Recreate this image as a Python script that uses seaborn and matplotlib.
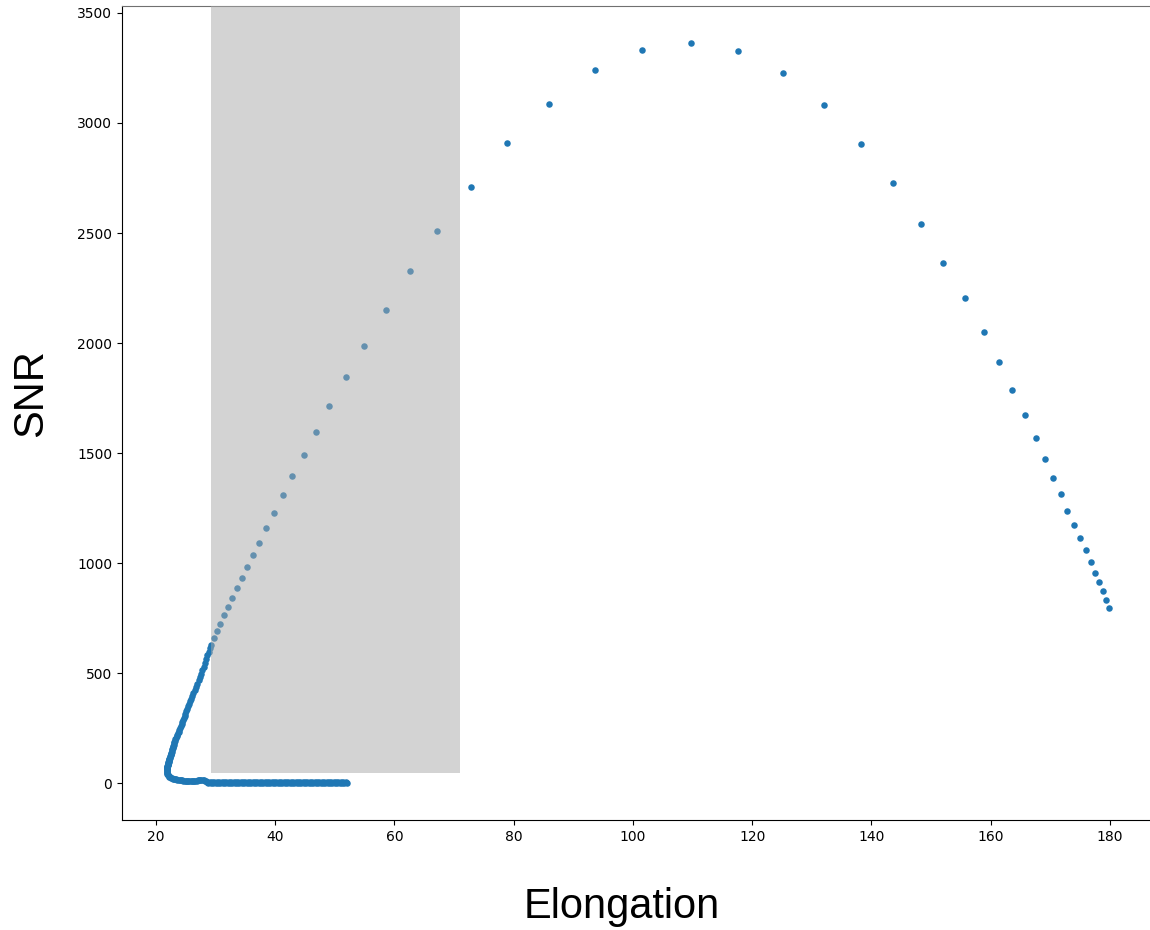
import matplotlib
matplotlib.use("Agg")
import matplotlib.pyplot as plt
import seaborn as sns
import pandas as pd

# ---- data ----
# flat part near SNR ~ 0
floor_elong = [28.6, 28.8, 29.0, 29.2, 29.4, 29.6, 29.8, 30.0, 30.2, 30.4,
               30.6, 30.8, 31.0, 31.2, 31.4, 31.6, 31.8, 32.0, 32.2, 32.4,
               32.6, 32.8, 33.0, 33.2, 33.4, 33.6, 33.8, 34.0, 34.2, 34.4,
               34.6, 34.8, 35.0, 35.2, 35.4, 35.6, 35.8, 36.0, 36.2, 36.4,
               36.6, 36.8, 37.0, 37.2, 37.4, 37.6, 37.8, 38.0, 38.2, 38.4,
               38.6, 38.8, 39.0, 39.2, 39.4, 39.6, 39.8, 40.0, 40.2, 40.4,
               40.6, 40.8, 41.0, 41.2, 41.4, 41.6, 41.8, 42.0, 42.2, 42.4,
               42.6, 42.8, 43.0, 43.2, 43.4, 43.6, 43.8, 44.0, 44.2, 44.4,
               44.6, 44.8, 45.0, 45.2, 45.4, 45.6, 45.8, 46.0, 46.2, 46.4,
               46.6, 46.8, 47.0, 47.2, 47.4, 47.6, 47.8, 48.0, 48.2, 48.4,
               48.6, 48.8, 49.0, 49.2, 49.4, 49.6, 49.8, 50.0, 50.2, 50.4,
               50.6, 50.8, 51.0, 51.2, 51.4, 51.6, 51.8, 52.0]
floor_snr = [6.0, 1.5, 5.5, 1.2, 5.5, 1.0, 5.0, 1.0, 5.0, 0.8,
             5.0, 0.8, 4.8, 0.8, 4.8, 0.7, 4.6, 0.7, 4.6, 0.6,
             4.5, 0.6, 4.5, 0.6, 4.4, 0.5, 4.4, 0.5, 4.3, 0.5,
             4.3, 0.5, 4.2, 0.5, 4.2, 0.4, 4.1, 0.4, 4.1, 0.4,
             4.0, 0.4, 4.0, 0.4, 4.0, 0.4, 3.9, 0.4, 3.9, 0.3,
             3.9, 0.3, 3.8, 0.3, 3.8, 0.3, 3.8, 0.3, 3.7, 0.3,
             3.7, 0.3, 3.7, 0.3, 3.6, 0.3, 3.6, 0.3, 3.6, 0.2,
             3.5, 0.2, 3.5, 0.2, 3.5, 0.2, 3.4, 0.2, 3.4, 0.2,
             3.4, 0.2, 3.3, 0.2, 3.3, 0.2, 3.3, 0.2, 3.2, 0.2,
             3.2, 0.2, 3.2, 0.2, 3.1, 0.2, 3.1, 0.1, 3.1, 0.1,
             3.0, 0.1, 3.0, 0.1, 3.0, 0.1, 2.9, 0.1, 2.9, 0.1,
             2.9, 0.1, 2.8, 0.1, 2.8, 0.1, 2.8, 0.1]

# hook at the lowest elongations
hook_elong = [21.81, 21.80, 21.80, 21.81, 21.83, 21.86, 21.90, 21.96, 22.03, 22.12,
              22.22, 22.34, 22.48, 22.64, 22.82, 23.0, 23.2, 23.4, 23.6, 23.8,
              24.0, 24.2, 24.4, 24.6, 24.8, 25.0, 25.2, 25.4, 25.6, 25.8,
              26.0, 26.2, 26.4, 26.6, 26.8, 27.0, 27.2, 27.4, 27.6, 27.8,
              28.0, 28.2, 28.35, 28.5]
hook_snr = [66, 62, 58, 54, 50, 46, 42, 38, 35, 32,
            29, 26, 24, 22, 20, 18, 17, 16, 15, 14,
            13, 12, 12, 11, 11, 10, 10, 9, 9, 9,
            9, 9, 10, 10, 11, 12, 13, 14, 15, 15,
            14, 11, 7, 4]

# dense rising branch
rise_elong = [21.82, 21.84, 21.87, 21.89, 21.93, 21.95, 21.98, 22.02, 22.05, 22.08,
              22.12, 22.15, 22.18, 22.23, 22.26, 22.31, 22.35, 22.39, 22.44, 22.48,
              22.53, 22.57, 22.63, 22.68, 22.74, 22.79, 22.85, 22.90, 22.97, 23.03,
              23.10, 23.17, 23.25, 23.35, 23.46, 23.57, 23.68, 23.80, 23.92, 24.05,
              24.17, 24.31, 24.44, 24.55, 24.68, 24.80, 24.93, 25.06, 25.20, 25.34,
              25.49, 25.64, 25.81, 26.02, 26.23, 26.46, 26.69, 26.91, 27.16, 27.40,
              27.59, 27.78, 27.98, 28.19, 28.41, 28.62, 28.83, 29.01]
rise_snr = [70, 72, 75, 77, 80, 82, 85, 88, 91, 94,
            97, 100, 103, 107, 110, 114, 118, 122, 126, 130,
            134, 138, 143, 148, 153, 158, 163, 168, 174, 180,
            186, 192, 198, 205, 212, 219, 226, 234, 242, 250,
            258, 267, 276, 285, 295, 305, 315, 326, 337, 348,
            360, 372, 384, 397, 410, 424, 438, 452, 467, 482,
            497, 513, 529, 546, 563, 580, 597, 612]

# sparse arc
arc_elong = [29.2, 29.7, 30.2, 30.7, 31.4, 32.1, 32.7, 33.6, 34.4, 35.3, 36.3, 37.3,
             38.4, 39.8, 41.3, 42.8, 44.8, 46.8, 49.0, 51.9, 54.9, 58.6, 62.6, 67.1,
             72.8, 78.9, 85.9, 93.6, 101.5, 109.7, 117.6, 125.2, 132.0, 138.2, 143.6,
             148.3, 152.0, 155.7, 158.9, 161.4, 163.6, 165.8, 167.6, 169.1, 170.4,
             171.8, 172.8, 174.0, 175.0, 176.0, 176.8, 177.5, 178.2, 178.8, 179.3, 179.8]
arc_snr = [627, 659, 691, 723, 764, 800, 841, 886, 932, 982, 1036, 1091,
           1159, 1227, 1309, 1395, 1491, 1595, 1714, 1845, 1986, 2150, 2327, 2509,
           2709, 2909, 3086, 3241, 3332, 3364, 3327, 3227, 3082, 2905, 2727,
           2541, 2364, 2205, 2050, 1914, 1786, 1673, 1568, 1473, 1386,
           1314, 1236, 1173, 1114, 1059, 1005, 955, 914, 873, 832, 795]

x_ticks = [20, 40, 60, 80, 100, 120, 140, 160, 180]
y_ticks = [0, 500, 1000, 1500, 2000, 2500, 3000, 3500]

df = pd.DataFrame({
    "Elongation": floor_elong + hook_elong + rise_elong + arc_elong,
    "SNR": floor_snr + hook_snr + rise_snr + arc_snr,
})

fig = plt.figure(figsize=(11.5, 9.3), dpi=100)
ax = fig.add_axes([0.1061, 0.1183, 0.9, 0.8753])

sns.scatterplot(data=df, x="Elongation", y="SNR", ax=ax, s=22, linewidth=0,
                color="#1f77b4", zorder=2)

ax.axvspan(29.2, 71.0, ymin=0.058, ymax=1.0, facecolor="darkgray", alpha=0.5,
           edgecolor="none", zorder=3)

ax.set_xlim(14.3, 187.9)
ax.set_ylim(-168, 3532)
ax.set_xticks(x_ticks)
ax.set_yticks(y_ticks)
ax.tick_params(labelsize=10)
ax.spines["top"].set_color("#707070")

lab_font = dict(family=["Liberation Sans", "DejaVu Sans"], size=30)
ax.set_xlabel("Elongation", **lab_font)
ax.set_ylabel("SNR", **lab_font)
ax.xaxis.set_label_coords(0.4826, -0.0823)
ax.yaxis.set_label_coords(-0.0686, 0.524)

fig.savefig("out.png", dpi=100)
